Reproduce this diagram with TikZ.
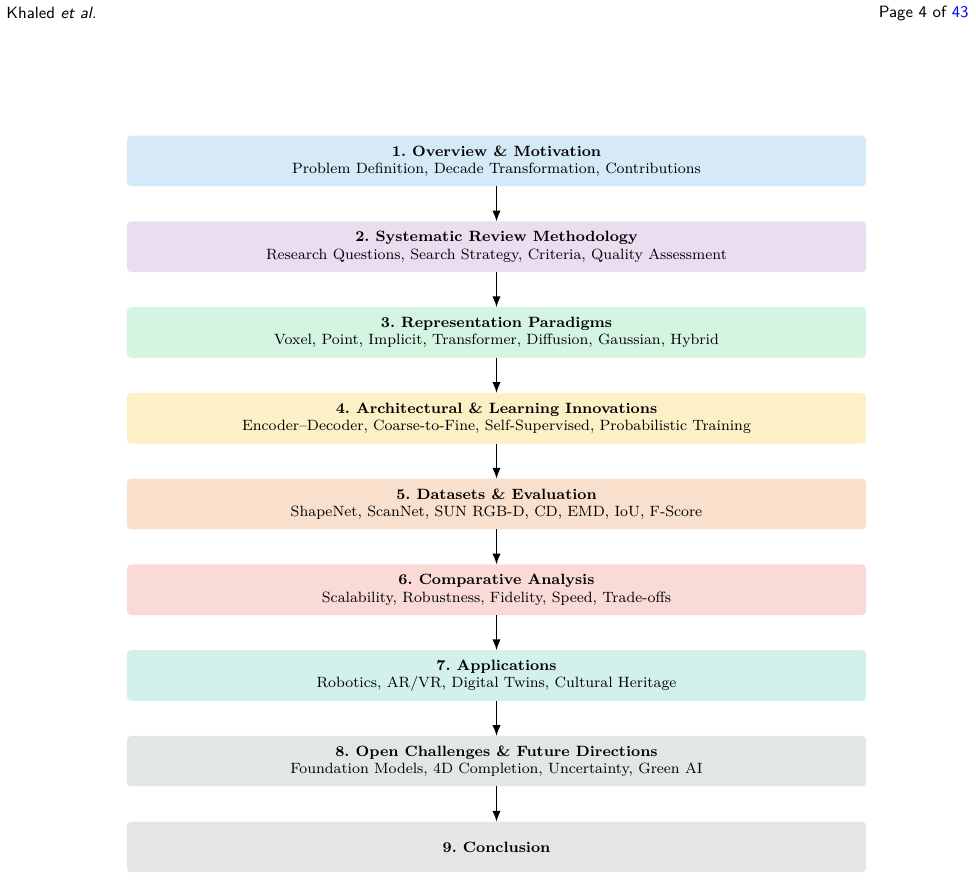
\documentclass[tikz,border=0pt]{standalone}
\usepackage{tikz}
\usetikzlibrary{positioning,arrows.meta}

\definecolor{boxblue}{HTML}{D6E9F6}
\definecolor{boxpurple}{HTML}{EADDF0}
\definecolor{boxgreen}{HTML}{D5F5E3}
\definecolor{boxyellow}{HTML}{FCF0C6}
\definecolor{boxorange}{HTML}{F8E0CC}
\definecolor{boxred}{HTML}{F9DAD7}
\definecolor{boxteal}{HTML}{D2F1EA}
\definecolor{boxgrey}{HTML}{E3E6E7}
\definecolor{boxgray}{HTML}{E5E5E5}
\definecolor{linkblue}{HTML}{0000FF}

\begin{document}
\begin{tikzpicture}[x=0.55pt,y=-0.55pt]
    \tikzset{
        SectionBox/.style = {
            rounded corners = 2.2pt,
            minimum width = 406.5pt,
            minimum height = 27.8pt,
            inner sep = 2pt,
            outer sep = 0pt,
            align = center,
            font = \fontsize{8.2}{9.7}\selectfont\frenchspacing,
            draw = none},
        HeadText/.style = {
            inner sep = 0pt,
            font = \sffamily\small},
        FlowArrow/.style = {
            -{Latex[length=6pt,width=4.6pt]},
            line width = 0.8pt}
            }
    \useasboundingbox (0,0) rectangle (976,879);
    % running head
    \node[HeadText, anchor = west] (head) at (6,13) {Khaled \textit{et al.}};
    \node[HeadText, anchor = east] (page) at (969,13) {Page 4 of \textcolor{linkblue}{43}};
    % sections
    \node[SectionBox, fill = boxblue] (S1) at (496.5,161)
        {\textbf{1. Overview \& Motivation}\\Problem Definition, Decade Transformation, Contributions};
    \begin{scope}[node distance = 19.36pt]
    \node[SectionBox, fill = boxpurple, below = of S1] (S2)
        {\textbf{2. Systematic Review Methodology}\\Research Questions, Search Strategy, Criteria, Quality Assessment};
    \node[SectionBox, fill = boxgreen, below = of S2] (S3)
        {\textbf{3. Representation Paradigms}\\Voxel, Point, Implicit, Transformer, Diffusion, Gaussian, Hybrid};
    \node[SectionBox, fill = boxyellow, below = of S3] (S4)
        {\textbf{4. Architectural \& Learning Innovations}\\Encoder--Decoder, Coarse-to-Fine, Self-Supervised, Probabilistic Training};
    \node[SectionBox, fill = boxorange, below = of S4] (S5)
        {\textbf{5. Datasets \& Evaluation}\\ShapeNet, ScanNet, SUN RGB-D, CD, EMD, IoU, F-Score};
    \node[SectionBox, fill = boxred, below = of S5] (S6)
        {\textbf{6. Comparative Analysis}\\Scalability, Robustness, Fidelity, Speed, Trade-offs};
    \node[SectionBox, fill = boxteal, below = of S6] (S7)
        {\textbf{7. Applications}\\Robotics, AR/VR, Digital Twins, Cultural Heritage};
    \node[SectionBox, fill = boxgrey, below = of S7] (S8)
        {\textbf{8. Open Challenges \& Future Directions}\\Foundation Models, 4D Completion, Uncertainty, Green AI};
    \node[SectionBox, fill = boxgray, below = of S8] (S9)
        {\textbf{9. Conclusion}};
    \end{scope}
    % flow
    \draw[FlowArrow] (S1) -- (S2);
    \draw[FlowArrow] (S2) -- (S3);
    \draw[FlowArrow] (S3) -- (S4);
    \draw[FlowArrow] (S4) -- (S5);
    \draw[FlowArrow] (S5) -- (S6);
    \draw[FlowArrow] (S6) -- (S7);
    \draw[FlowArrow] (S7) -- (S8);
    \draw[FlowArrow] (S8) -- (S9);
\end{tikzpicture}
\end{document}
